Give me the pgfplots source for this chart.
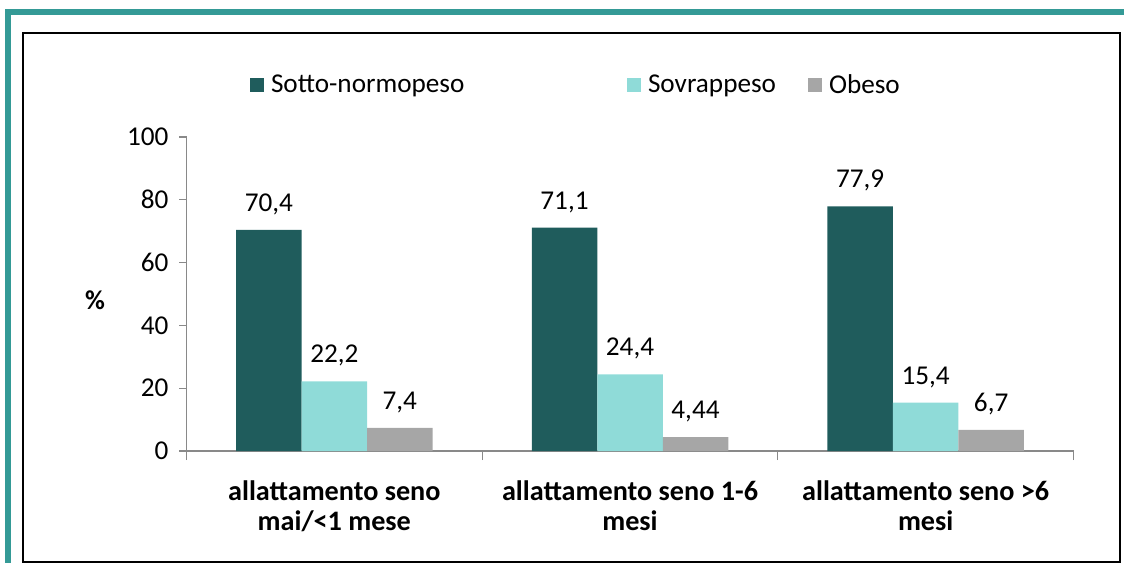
\documentclass[border=0pt]{standalone}
\usepackage{fontspec}
\setmainfont{Carlito}
\usepackage{pgfplots}
\pgfplotsset{compat=1.18}
\definecolor{dark}{HTML}{1F5C5C}
\definecolor{light}{HTML}{8FDBD8}
\definecolor{grey}{HTML}{A6A6A6}
\definecolor{frame}{HTML}{349A96}
\definecolor{axgrey}{HTML}{898989}
\newcommand\cf{\fontsize{13.6}{15}\selectfont}
\newcommand\cfb{\fontsize{14.1}{15}\selectfont\bfseries}

\begin{document}
\begin{tikzpicture}
% picture laid out in reference pixels: 1px = 0.5pt, y measured upwards
\useasboundingbox (0,0) rectangle (562pt,281.5pt);
% outer teal frame and inner box
\fill[frame] (2.5pt,274pt) rectangle (562pt,277pt);
\fill[frame] (2.5pt,0pt) rectangle (5.5pt,277pt);
\draw[line width=0.6pt] (11.5pt,0.5pt) rectangle (560pt,265pt);
\coordinate (O) at (93.25pt,56pt);

\begin{axis}[
  at={(O)}, anchor=origin,
  scale only axis,
  width=443.5pt, height=157pt,
  xmin=0, xmax=3, ymin=0, ymax=100,
  axis lines*=left,
  axis line style={axgrey, line width=0.65pt},
  ybar=0pt, bar width=32.75pt,
  xtick={0.5,1.5,2.5},
  xticklabels={{allattamento seno\\mai/<1 mese},{allattamento seno 1-6\\mesi},{allattamento seno >6\\mesi}},
  major x tick style={draw=none},
  minor xtick={0,1,2,3},
  minor x tick style={axgrey, line width=0.65pt},
  ytick={0,20,...,100},
  y tick style={axgrey, line width=0.65pt},
  tick align=outside,
  major tick length=3.5pt, minor tick length=4.5pt,
  /pgf/number format/assume math mode=true,
  yticklabel style={font=\cf, xshift=-2pt},
  xticklabel style={font=\cfb, align=center, yshift=-8pt},
  ylabel={\textbf{\%}},
  ylabel style={font=\cf, rotate=-90, at={(axis description cs:-0.103,0.481)}, anchor=center},
  nodes near coords,
  point meta=explicit symbolic,
  every node near coord/.append style={font=\cf, black, yshift=4pt},
  legend columns=3,
  legend style={draw=none, fill=none, inner sep=0pt, outer sep=0pt,
    column sep=0pt, nodes={inner sep=0pt},
    at={(axis description cs:0.0716,1.165)}, anchor=west, font=\cf},
  legend image code/.code={\fill[#1, draw=none] (0pt,-3.5pt) rectangle (7pt,3.5pt);},
]
\addplot[fill=dark, draw=none] coordinates {(0.5,70.4) [70,4] (1.5,71.1) [71,1] (2.5,77.9) [77,9]};
\addplot[fill=light, draw=none] coordinates {(0.5,22.2) [22,2] (1.5,24.4) [24,4] (2.5,15.4) [15,4]};
\addplot[fill=grey, draw=none] coordinates {(0.5,7.4) [7,4] (1.5,4.44) [4,44] (2.5,6.7) [6,7]};
\legend{\hspace{3.5pt}\makebox[178pt][l]{Sotto-normopeso},
        \hspace{3.5pt}\makebox[80pt][l]{Sovrappeso},
        \hspace{3.5pt}\makebox[40pt][l]{Obeso}}
\end{axis}
\end{tikzpicture}
\end{document}
